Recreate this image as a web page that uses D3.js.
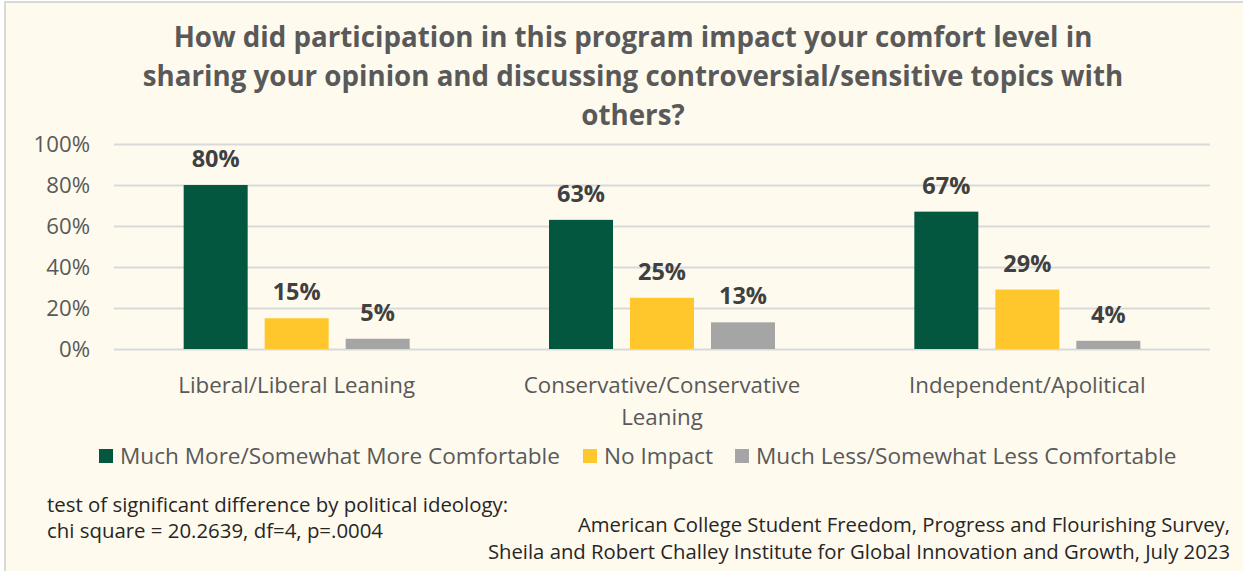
<!DOCTYPE html>
<html>
<head>
<meta charset="utf-8">
<script src="https://cdn.jsdelivr.net/npm/d3@7"></script>
<style>
  html, body { margin: 0; padding: 0; background: #ffffff; }
  svg { display: block; font-family: "Open Sans", "Noto Sans", sans-serif; }
</style>
</head>
<body>
<svg id="chart" width="1243" height="571"></svg>
<script>
// Survey response shares by political ideology (percent)
const categories = [
  ["Liberal/Liberal Leaning"],
  ["Conservative/Conservative", "Leaning"],
  ["Independent/Apolitical"]
];
const categoryKeys = ["Liberal", "Conservative", "Independent"];
const seriesNames = [
  "Much More/Somewhat More Comfortable",
  "No Impact",
  "Much Less/Somewhat Less Comfortable"
];
const moreComfortable = [80, 63, 67];
const noImpact = [15, 25, 29];
const lessComfortable = [5, 13, 4];
const yTicks = [0, 20, 40, 60, 80, 100];
const titleLines = [
  "How did participation in this program impact your comfort level in",
  "sharing your opinion and discussing controversial/sensitive topics with",
  "others?"
];
const noteLines = [
  "test of significant difference by political ideology:",
  "chi square = 20.2639, df=4, p=.0004"
];
const sourceLines = [
  "American College Student Freedom, Progress and Flourishing Survey,",
  "Sheila and Robert Challey Institute for Global Innovation and Growth, July 2023"
];

const colors = ["#03573F", "#FFC72C", "#A5A5A5"];
const seriesValues = [moreComfortable, noImpact, lessComfortable];

const svg = d3.select("#chart");
const W = 1243, H = 571;

// panel background and frame
svg.append("rect").attr("x", 0).attr("y", 0).attr("width", W).attr("height", H).attr("fill", "#ffffff");
svg.append("rect")
  .attr("x", 5).attr("y", 2).attr("width", W + 10).attr("height", H + 10)
  .attr("fill", "#FEFAEE").attr("stroke", "#D9D9D9").attr("stroke-width", 2);

// title
svg.append("g").selectAll("text").data(titleLines).join("text")
  .attr("x", 633).attr("y", (d, i) => 47 + i * 39)
  .attr("text-anchor", "middle")
  .attr("font-weight", 700).attr("font-size", 27.7)
  .attr("fill", "#595959")
  .text(d => d);

const plot = { left: 114, right: 1210, top: 144, bottom: 349 };

const x0 = d3.scaleBand().domain(categoryKeys).range([plot.left, plot.right]).padding(0);
const groupW = 226;
const x1 = d3.scaleBand().domain(d3.range(seriesNames.length)).range([0, groupW]).paddingInner(0.21).paddingOuter(0);
const y = d3.scaleLinear().domain([0, 100]).range([plot.bottom, plot.top]);

// gridlines
const grid = svg.append("g").attr("transform", `translate(${plot.left},0)`)
  .call(d3.axisLeft(y).tickValues(yTicks).tickSize(-(plot.right - plot.left)).tickFormat(""));
grid.select(".domain").remove();
grid.selectAll(".tick line").attr("stroke", "#D9D9D9").attr("stroke-width", 2);

// y axis labels
const yAxis = svg.append("g").attr("transform", `translate(90,0)`)
  .call(d3.axisLeft(y).tickValues(yTicks).tickSize(0).tickPadding(0).tickFormat(d => d + "%"));
yAxis.select(".domain").remove();
yAxis.selectAll("text")
  .attr("font-family", "'Open Sans', 'Noto Sans', sans-serif")
  .attr("font-size", 22.2).attr("fill", "#595959").attr("dy", "0.35em");

// bars
const groups = svg.append("g").selectAll("g").data(categoryKeys).join("g")
  .attr("transform", d => `translate(${x0(d) + (x0.bandwidth() - groupW) / 2},0)`);

groups.each(function(cat, ci) {
  const g = d3.select(this);
  const rows = seriesValues.map((vals, si) => ({ si, v: vals[ci] }));
  g.selectAll("rect").data(rows).join("rect")
    .attr("x", d => x1(d.si))
    .attr("width", x1.bandwidth())
    .attr("y", d => y(d.v))
    .attr("height", d => y(0) - y(d.v))
    .attr("fill", d => colors[d.si]);
  g.selectAll("text").data(rows).join("text")
    .attr("x", d => x1(d.si) + x1.bandwidth() / 2)
    .attr("y", d => y(d.v) - 18)
    .attr("text-anchor", "middle")
    .attr("font-weight", 700).attr("font-size", 23.5)
    .attr("fill", "#404040")
    .text(d => d.v + "%");
});

// category labels
svg.append("g").selectAll("text").data(categoryKeys).join("text")
  .attr("x", d => x0(d) + x0.bandwidth() / 2)
  .attr("y", 393)
  .attr("text-anchor", "middle")
  .attr("font-size", 22.3).attr("fill", "#595959")
  .each(function(d, i) {
    d3.select(this).selectAll("tspan").data(categories[i]).join("tspan")
      .attr("x", x0(d) + x0.bandwidth() / 2)
      .attr("dy", (t, j) => j === 0 ? 0 : 32)
      .text(t => t);
  });

// legend
const legendX = [99, 583, 735];
const legend = svg.append("g").selectAll("g").data(seriesNames).join("g")
  .attr("transform", (d, i) => `translate(${legendX[i]},449)`);
legend.append("rect").attr("width", 14).attr("height", 14).attr("fill", (d, i) => colors[i]);
legend.append("text").attr("x", 21).attr("y", 15)
  .attr("font-size", 22.6).attr("fill", "#595959").text(d => d);

// statistical note
svg.append("g").selectAll("text").data(noteLines).join("text")
  .attr("x", 47).attr("y", (d, i) => 512 + i * 26)
  .attr("font-size", 20.4).attr("fill", "#262626").text(d => d);

// source
svg.append("g").selectAll("text").data(sourceLines).join("text")
  .attr("x", 1230).attr("y", (d, i) => 532 + i * 27)
  .attr("text-anchor", "end")
  .attr("font-size", 20.3).attr("fill", "#262626").text(d => d);
</script>
</body>
</html>
